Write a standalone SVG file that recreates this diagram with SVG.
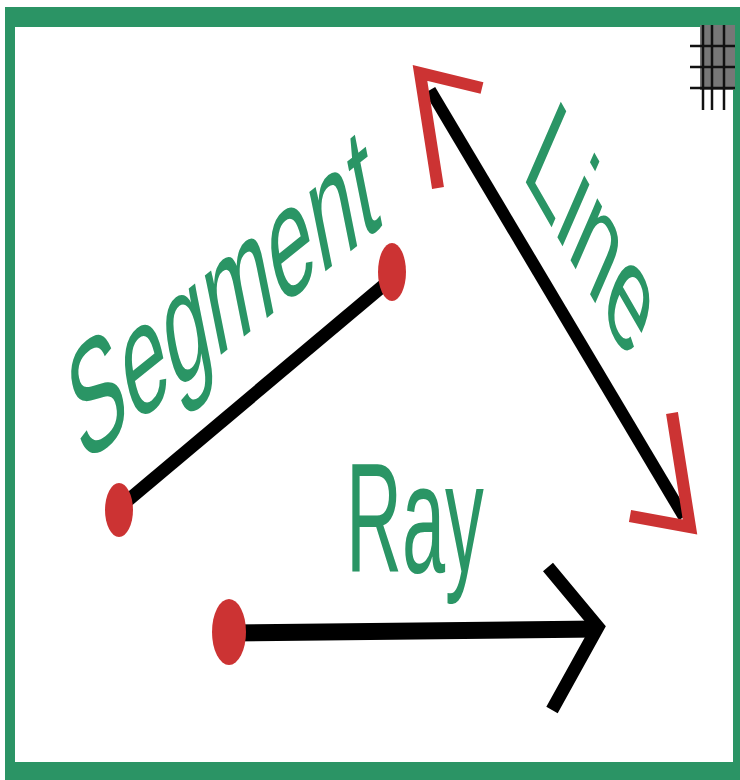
<svg xmlns="http://www.w3.org/2000/svg" width="740" height="780" viewBox="0 0 740 780">
<style>
.lbl{font-family:"Liberation Sans","DejaVu Sans",sans-serif;font-size:155px;fill:#2a9565}
.blk{stroke:#000;fill:none;stroke-linecap:butt;stroke-linejoin:miter}
.red{stroke:#cc3333;fill:none;stroke-width:12;stroke-linejoin:miter}
.dot{fill:#cc3333}
</style>
<rect x="0" y="0" width="740" height="780" fill="#fff"/>
<g id="frame">
<rect x="5" y="7" width="735" height="773" fill="#2b9465"/>
<rect x="15" y="27" width="718" height="735" fill="#fff"/>
</g>
<g id="grid" stroke="#111" stroke-width="2.5">
<rect x="700" y="25" width="35" height="65" fill="#777" stroke="none"/>
<line x1="703" y1="25" x2="703" y2="110"/>
<line x1="712" y1="25" x2="712" y2="110"/>
<line x1="724" y1="25" x2="724" y2="110"/>
<line x1="690" y1="46" x2="735" y2="46"/>
<line x1="690" y1="67" x2="735" y2="67"/>
<line x1="690" y1="88" x2="735" y2="88"/>
</g>
<g id="connectors">
<line class="blk" x1="120" y1="507" x2="390" y2="280" stroke-width="13"/>
<line class="blk" x1="430" y1="90" x2="684" y2="517" stroke-width="12"/>
<polyline class="red" points="482,88 420,73 438,188"/>
<polyline class="red" points="672,413 690,527 630,516"/>
<line class="blk" x1="230" y1="633" x2="598" y2="629" stroke-width="17"/>
<polyline class="blk" points="548,567 598,627 552,710" stroke-width="13"/>
</g>
<g id="segment">
<ellipse class="dot" cx="119" cy="510" rx="14" ry="27"/>
<ellipse class="dot" cx="392" cy="272" rx="14" ry="29"/>
<text class="lbl" style="font-size:162px" transform="translate(82,466) scale(0.5,1) rotate(-21.8)">Segment</text>
</g>
<g id="line">
<text class="lbl" transform="translate(521,174) scale(0.5,1) rotate(41)">Line</text>
</g>
<g id="ray">
<ellipse class="dot" cx="229" cy="632" rx="17" ry="33"/>
<text class="lbl" transform="translate(346,572) scale(0.5,1)">Ray</text>
</g>
</svg>
